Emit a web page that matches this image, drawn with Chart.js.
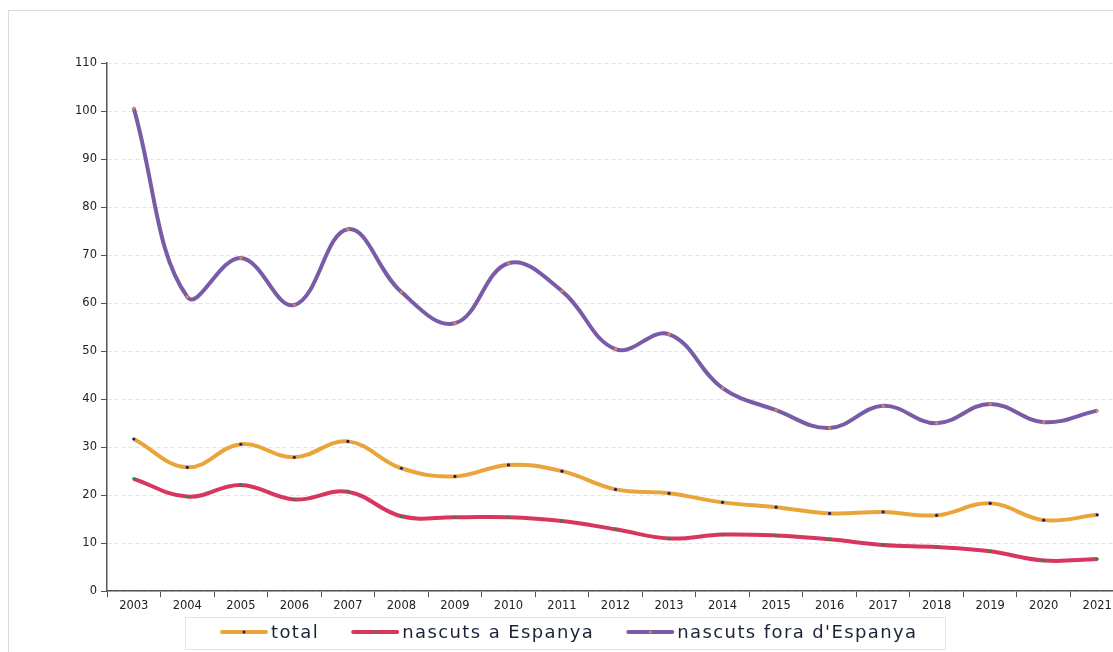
<!DOCTYPE html>
<html>
<head>
<meta charset="utf-8">
<script src="https://cdn.jsdelivr.net/npm/chart.js@4.4.0/dist/chart.umd.min.js"></script>
<style>
  html, body { margin: 0; padding: 0; background: #fff; overflow: hidden; }
  #marc { position: absolute; left: 8px; top: 10px; width: 1200px; height: 700px; border: 1px solid #dcdcdc; }
  #caixa { position: absolute; left: 0; top: 0; width: 1130px; height: 652px; }
</style>
</head>
<body>
<div id="marc"></div>
<div id="caixa"><canvas id="grafic"></canvas></div>
<script>
var anys = ['2003', '2004', '2005', '2006', '2007', '2008', '2009', '2010', '2011', '2012',
            '2013', '2014', '2015', '2016', '2017', '2018', '2019', '2020', '2021'];
var total = [31.7, 25.8, 30.6, 27.9, 31.2, 25.6, 23.9, 26.3, 25.0, 21.2,
             20.4, 18.5, 17.5, 16.2, 16.5, 15.8, 18.3, 14.8, 15.9];
var nascutsEspanya = [23.4, 19.7, 22.1, 19.1, 20.7, 15.6, 15.4, 15.4, 14.6, 12.9,
                      11.0, 11.8, 11.6, 10.8, 9.6, 9.2, 8.3, 6.4, 6.7];
var nascutsFora = [100.6, 61.3, 69.4, 59.6, 75.4, 62.3, 55.8, 68.3, 62.5, 50.4,
                   53.5, 42.3, 37.7, 34.0, 38.6, 35.0, 39.0, 35.2, 37.6];
var ticksY = [0, 10, 20, 30, 40, 50, 60, 70, 80, 90, 100, 110];

function serie(nom, dades, color, punt) {
    return {
        label: nom,
        data: dades,
        borderColor: color,
        backgroundColor: color,
        borderWidth: 4,
        tension: 0.4,
        pointRadius: 1.6,
        pointBorderWidth: 0,
        pointBackgroundColor: punt,
        pointHoverRadius: 2,
        puntLlegenda: punt
    };
}

// llegenda dibuixada a ma, dins d'una caixa amb vora
var llegenda = {
    id: 'llegenda',
    afterDraw: function(chart) {
        var ctx = chart.ctx;
        var y = 632;
        var x = 222;
        ctx.save();
        ctx.strokeStyle = '#e3e3e3';
        ctx.lineWidth = 1;
        ctx.strokeRect(185.5, 617.5, 760, 32);
        ctx.font = '18px "DejaVu Sans"';
        ctx.letterSpacing = '1.4px';
        ctx.textBaseline = 'middle';
        chart.data.datasets.forEach(function(d) {
            ctx.strokeStyle = d.borderColor;
            ctx.lineWidth = 4;
            ctx.lineCap = 'round';
            ctx.beginPath();
            ctx.moveTo(x, y);
            ctx.lineTo(x + 44, y);
            ctx.stroke();
            ctx.fillStyle = d.puntLlegenda;
            ctx.beginPath();
            ctx.arc(x + 22, y, 1.5, 0, Math.PI * 2);
            ctx.fill();
            ctx.fillStyle = '#1a2338';
            ctx.fillText(d.label, x + 49, y + 1);
            x += 49 + ctx.measureText(d.label).width + 34;
        });
        ctx.restore();
    }
};

var ctx = document.getElementById('grafic').getContext('2d');
new Chart(ctx, {
    type: 'line',
    data: {
        labels: anys,
        datasets: [
            serie('total', total, '#e9a53a', '#1c1c78'),
            serie('nascuts a Espanya', nascutsEspanya, '#d6365f', '#2e8a2e'),
            serie("nascuts fora d'Espanya", nascutsFora, '#7a5ba8', '#d88a48')
        ]
    },
    options: {
        responsive: true,
        maintainAspectRatio: false,
        animation: false,
        layout: { padding: { left: 10, right: 6, top: 63, bottom: 37 } },
        scales: {
            x: {
                offset: true,
                grid: { offset: true, drawOnChartArea: false, drawTicks: true, tickLength: 6, tickColor: '#555', color: '#555' },
                border: { color: '#555', width: 1.5 },
                ticks: { color: '#222', font: { family: 'DejaVu Sans', size: 11.5 }, padding: 2, maxRotation: 0, autoSkip: false }
            },
            y: {
                min: 0,
                max: 110,
                afterBuildTicks: function(s) { s.ticks = ticksY.map(function(v) { return { value: v }; }); },
                afterFit: function(s) { s.width = 97; },
                grid: { color: '#e4e4e4', tickColor: '#555', tickLength: 6 },
                border: { color: '#555', width: 1.5, dash: [4, 3] },
                ticks: { color: '#222', font: { family: 'DejaVu Sans', size: 11.5 }, padding: 4 }
            }
        },
        plugins: {
            legend: { display: false },
            tooltip: { enabled: false }
        }
    },
    plugins: [llegenda]
});
</script>
</body>
</html>
